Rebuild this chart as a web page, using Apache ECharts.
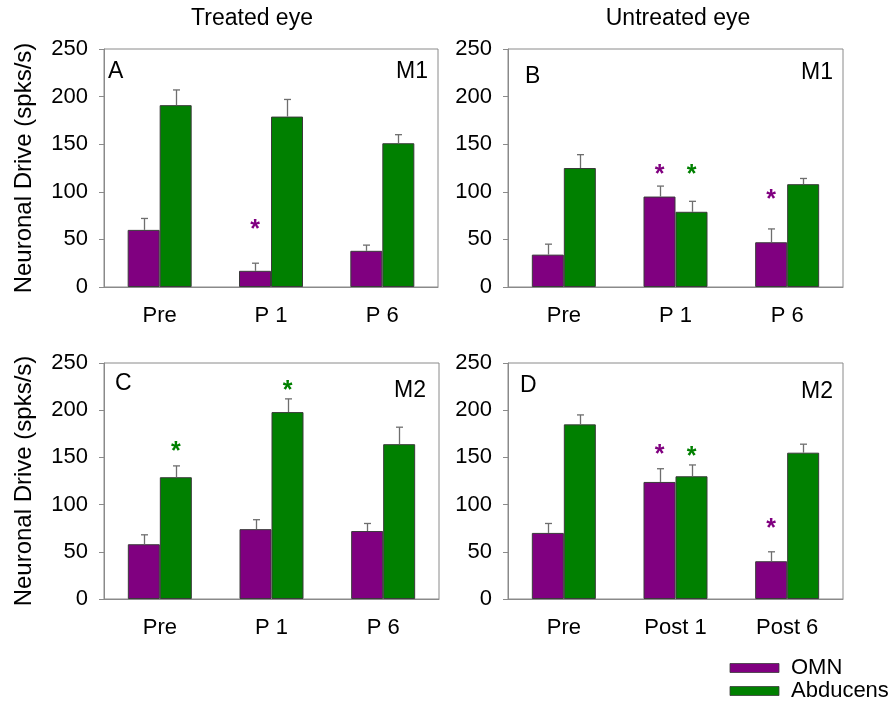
<!DOCTYPE html>
<html>
<head>
<meta charset="utf-8">
<script src="https://cdn.jsdelivr.net/npm/echarts@6/dist/echarts.min.js"></script>
<style>
  html, body { margin: 0; padding: 0; background: #fff; }
  #chart { width: 888px; height: 709px; }
</style>
</head>
<body>
<div id="chart"></div>
<script>
// Category labels
var catsTreated = ['Pre', 'P 1', 'P 6'];
var catsUntreatedM1 = ['Pre', 'P 1', 'P 6'];
var catsUntreatedM2 = ['Pre', 'Post 1', 'Post 6'];

// Y axis ticks
var yTicks = [0, 50, 100, 150, 200, 250];

// Series names
var seriesNames = ['OMN', 'Abducens'];

// Panel A: treated eye, M1
var omnA = [60, 17, 38];
var omnErrA = [12, 8, 6];
var abdA = [191, 179, 151];
var abdErrA = [16, 18, 9];
// Panel B: untreated eye, M1
var omnB = [34, 95, 47];
var omnErrB = [11, 11, 14];
var abdB = [125, 79, 108];
var abdErrB = [14, 11, 6];
// Panel C: treated eye, M2
var omnC = [58, 74, 72];
var omnErrC = [10, 10, 8];
var abdC = [129, 198, 164];
var abdErrC = [12, 14, 18];
// Panel D: untreated eye, M2
var omnD = [70, 124, 40];
var omnErrD = [10, 14, 10];
var abdD = [185, 130, 155];
var abdErrD = [10, 12, 9];

// Significance marks: [category index, group (0 = OMN, 1 = Abducens), level]
var sigA = [[1, 0, 65]];
var sigB = [[1, 0, 123], [1, 1, 123], [2, 0, 97]];
var sigC = [[0, 1, 161], [1, 1, 226]];
var sigD = [[1, 0, 158], [1, 1, 156], [2, 0, 79]];

var PURPLE = '#800080';
var GREEN = '#008000';
var GRAY = '#8a8a8a';
var FONT = 'Liberation Sans, Arial, sans-serif';
var BAR_W = 32;

var panels = [
  { cats: catsTreated, omn: omnA, omnErr: omnErrA, abd: abdA, abdErr: abdErrA, sig: sigA,
    grid: { left: 104, top: 49, width: 334, height: 238 }, yName: 'Neuronal Drive (spks/s)' },
  { cats: catsUntreatedM1, omn: omnB, omnErr: omnErrB, abd: abdB, abdErr: abdErrB, sig: sigB,
    grid: { left: 508, top: 49, width: 335, height: 238 }, yName: '' },
  { cats: catsTreated, omn: omnC, omnErr: omnErrC, abd: abdC, abdErr: abdErrC, sig: sigC,
    grid: { left: 104, top: 363, width: 335, height: 236 }, yName: 'Neuronal Drive (spks/s)' },
  { cats: catsUntreatedM2, omn: omnD, omnErr: omnErrD, abd: abdD, abdErr: abdErrD, sig: sigD,
    grid: { left: 508, top: 363, width: 335, height: 236 }, yName: '' }
];

var grids = [], xAxes = [], yAxes = [], series = [];

panels.forEach(function (p, i) {
  grids.push(Object.assign({ show: true, borderColor: GRAY, borderWidth: 1, backgroundColor: 'transparent' }, p.grid));
  xAxes.push({
    type: 'category', gridIndex: i, data: p.cats,
    axisLine: { lineStyle: { color: GRAY } },
    axisTick: { alignWithLabel: true, length: 5, lineStyle: { color: GRAY } },
    axisLabel: { color: '#000', fontSize: 22, fontFamily: FONT, margin: 18 }
  });
  yAxes.push({
    type: 'value', gridIndex: i, min: yTicks[0], max: yTicks[yTicks.length - 1],
    interval: yTicks[1] - yTicks[0],
    axisLine: { show: true, lineStyle: { color: GRAY } },
    axisTick: { show: true, length: 5, lineStyle: { color: GRAY } },
    splitLine: { show: false },
    axisLabel: { color: '#000', fontSize: 22, fontFamily: FONT, margin: 16 },
    name: p.yName, nameLocation: 'middle', nameRotate: 90, nameGap: 68,
    nameTextStyle: { color: '#000', fontSize: 24, fontFamily: FONT }
  });
  series.push({
    name: seriesNames[0], type: 'bar', xAxisIndex: i, yAxisIndex: i, data: p.omn,
    barWidth: BAR_W, barGap: 0,
    itemStyle: { color: PURPLE, borderColor: '#3a3a3a', borderWidth: 1 }
  });
  series.push({
    name: seriesNames[1], type: 'bar', xAxisIndex: i, yAxisIndex: i, data: p.abd,
    barWidth: BAR_W, barGap: 0,
    itemStyle: { color: GREEN, borderColor: '#3a3a3a', borderWidth: 1 }
  });
  // upper error bars
  var errData = [];
  p.omn.forEach(function (v, k) { errData.push([k, 0, v, v + p.omnErr[k]]); });
  p.abd.forEach(function (v, k) { errData.push([k, 1, v, v + p.abdErr[k]]); });
  series.push({
    type: 'custom', xAxisIndex: i, yAxisIndex: i, data: errData, z: 5, silent: true,
    renderItem: function (params, api) {
      var dx = api.value(1) === 0 ? -BAR_W / 2 : BAR_W / 2;
      var base = api.coord([api.value(0), api.value(2)]);
      var top = api.coord([api.value(0), api.value(3)]);
      var x = Math.round(base[0] + dx) + 0.5;
      var style = { stroke: '#6e6e6e', lineWidth: 1.3 };
      return {
        type: 'group', children: [
          { type: 'line', shape: { x1: x, y1: base[1], x2: x, y2: top[1] }, style: style },
          { type: 'line', shape: { x1: x - 3.5, y1: top[1], x2: x + 3.5, y2: top[1] }, style: style }
        ]
      };
    }
  });
  // significance asterisks
  series.push({
    type: 'custom', xAxisIndex: i, yAxisIndex: i, data: p.sig, z: 6, silent: true,
    renderItem: function (params, api) {
      var g = api.value(1);
      var dx = g === 0 ? -BAR_W / 2 : BAR_W / 2;
      var pt = api.coord([api.value(0), api.value(2)]);
      return {
        type: 'text',
        style: {
          text: '*', x: pt[0] + dx, y: pt[1] + 5,
          fill: g === 0 ? PURPLE : GREEN,
          font: 'bold 25px ' + FONT, textAlign: 'center', textVerticalAlign: 'middle'
        }
      };
    }
  });
});

function label(text, x, y, size, align) {
  return {
    type: 'text', x: x, y: y,
    style: { text: text, fill: '#000', font: size + 'px ' + FONT, textAlign: align || 'left', textVerticalAlign: 'middle' }
  };
}

// legend key: swatch + name, stacked
function legendItem(name, color, y) {
  return [
    { type: 'rect', shape: { x: 730, y: y - 4.5, width: 49, height: 9 },
      style: { fill: color, stroke: '#3a3a3a', lineWidth: 0.8 } },
    label(name, 791, y, 22)
  ];
}

var chart = echarts.init(document.getElementById('chart'), null, { renderer: 'canvas' });
chart.setOption({
  backgroundColor: '#fff',
  animation: false,
  grid: grids,
  xAxis: xAxes,
  yAxis: yAxes,
  series: series,
  graphic: [
    label('Treated eye', 252, 19, 23, 'center'),
    label('Untreated eye', 678, 19, 23, 'center'),
    label('A', 108, 72, 23),
    label('M1', 428, 72, 23, 'right'),
    label('B', 525, 77, 23),
    label('M1', 833, 73, 23, 'right'),
    label('C', 115, 384, 23),
    label('M2', 426, 391, 23, 'right'),
    label('D', 520, 386, 23),
    label('M2', 833, 392, 23, 'right')
  ].concat(legendItem(seriesNames[0], PURPLE, 668), legendItem(seriesNames[1], GREEN, 691))
});
</script>
</body>
</html>
